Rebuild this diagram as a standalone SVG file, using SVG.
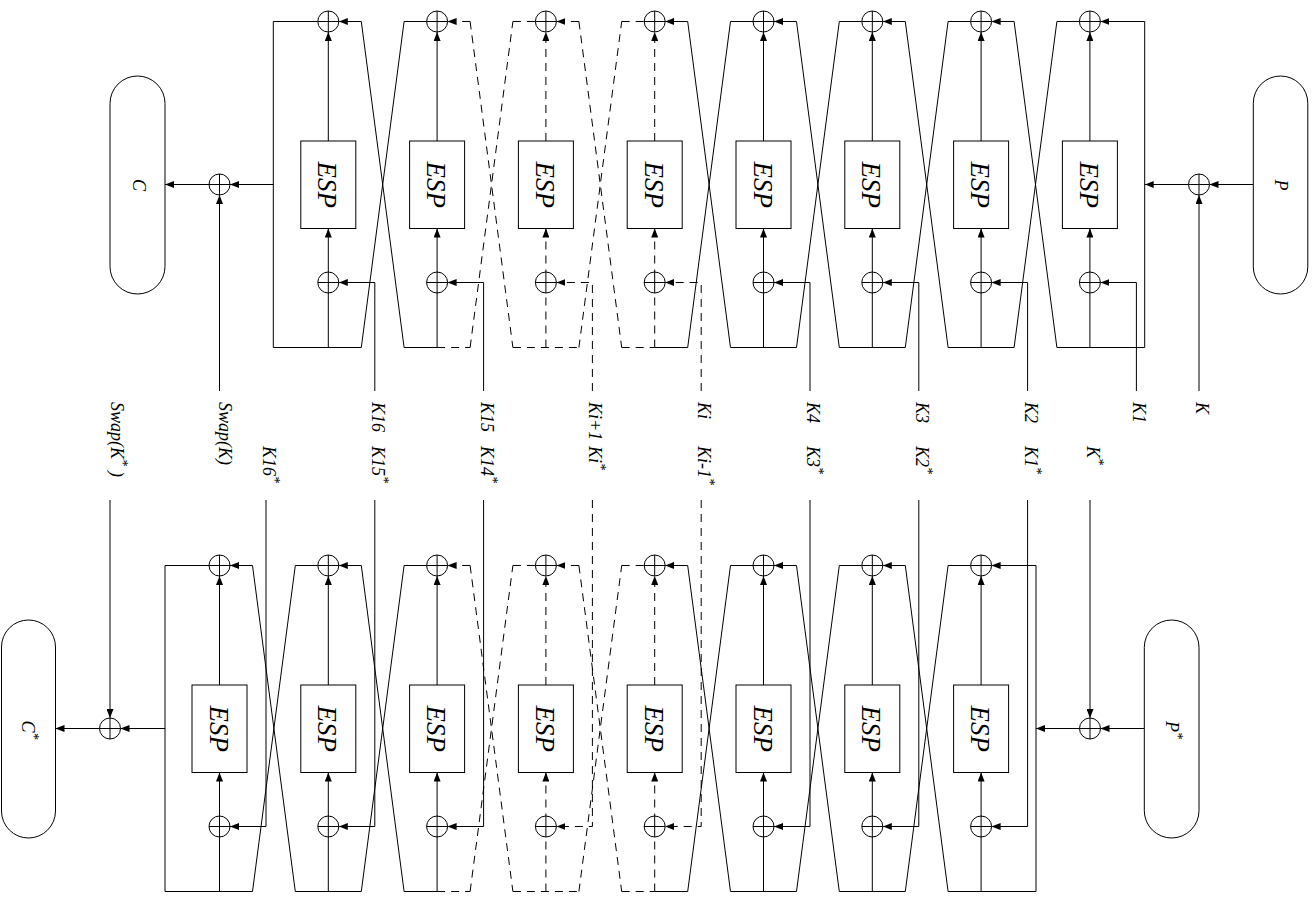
<svg xmlns="http://www.w3.org/2000/svg" width="1316" height="898" viewBox="0 0 1316 898">
<style>
.s{fill:none;stroke:#000;stroke-width:1}
.d{stroke-dasharray:8 6}
.a{marker-end:url(#ah)}
.box{fill:#fff;stroke:#000;stroke-width:1}
.x circle{fill:#fff;stroke:#000;stroke-width:1}
.x path{fill:none;stroke:#000;stroke-width:1}
.pill{fill:#fff;stroke:#000;stroke-width:1}
text{font-family:"Liberation Serif","Times New Roman",serif;font-style:italic;fill:#000}
.esp{font-size:27px;text-anchor:middle}
.lb{font-size:18px}
.pt{font-size:18px;text-anchor:middle}
.sup{font-size:14px}
</style>
<defs>
<marker id="ah" viewBox="0 0 9 7" refX="9" refY="3.5" markerWidth="9" markerHeight="7" markerUnits="userSpaceOnUse" orient="auto"><path d="M0,0 L9,3.5 L0,7 z" fill="#000"/></marker>
</defs>

<g id="connectors">
<!-- TOP ROW -->
<path class="s a" d="M1253.3,184.5 H1209.5"/>
<path class="s a" d="M1188.5,184.5 H1144.7"/>
<path class="s a" d="M1199,391 V195"/>
<path class="s a" d="M273.3,184.5 H230"/>
<path class="s a" d="M209,184.5 H165"/>
<path class="s a" d="M219.5,391 V195"/>
<!-- t0 c=328.3 -->
<path class="s" d="M317.8,21.5 H273.3 V347.5 H361.3"/>
<path class="s a" d="M361.3,21.5 H338.8"/>
<path class="s a" d="M328.3,347.5 V228.5"/>
<path class="s a" d="M328.3,141 V32"/>
<path class="s a" d="M374.8,391 V282.5 H338.8"/>
<path class="s" d="M361.3,21.5 L404.1,347.5 M361.3,347.5 L404.1,21.5"/>
<!-- t1 c=437.1 -->
<path class="s" d="M404.1,21.5 H426.6"/>
<path class="s d a" d="M470.1,21.5 H447.6"/>
<path class="s" d="M404.1,347.5 H437.1"/>
<path class="s d" d="M437.1,347.5 H470.1"/>
<path class="s a" d="M437.1,347.5 V228.5"/>
<path class="s a" d="M437.1,141 V32"/>
<path class="s a" d="M483.6,391 V282.5 H447.6"/>
<path class="s d" d="M470.1,21.5 L512.9,347.5 M470.1,347.5 L512.9,21.5"/>
<!-- t2 c=545.9 -->
<path class="s d" d="M512.9,21.5 H535.4"/>
<path class="s d a" d="M578.9,21.5 H556.4"/>
<path class="s d" d="M512.9,347.5 H578.9"/>
<path class="s d a" d="M545.9,347.5 V228.5"/>
<path class="s d a" d="M545.9,141 V32"/>
<path class="s d a" d="M592.4,391 V282.5 H556.4"/>
<path class="s d" d="M578.9,21.5 L621.7,347.5 M578.9,347.5 L621.7,21.5"/>
<!-- t3 c=654.7 -->
<path class="s d" d="M621.7,21.5 H644.2"/>
<path class="s a" d="M687.7,21.5 H665.2"/>
<path class="s d" d="M621.7,347.5 H654.7"/>
<path class="s" d="M654.7,347.5 H687.7"/>
<path class="s d a" d="M654.7,347.5 V228.5"/>
<path class="s d a" d="M654.7,141 V32"/>
<path class="s d a" d="M701.2,391 V282.5 H665.2"/>
<path class="s" d="M687.7,21.5 L730.5,347.5 M687.7,347.5 L730.5,21.5"/>
<!-- t4 c=763.5 -->
<path class="s" d="M730.5,21.5 H753 M730.5,347.5 H796.5"/>
<path class="s a" d="M796.5,21.5 H774"/>
<path class="s a" d="M763.5,347.5 V228.5"/>
<path class="s a" d="M763.5,141 V32"/>
<path class="s a" d="M810,391 V282.5 H774"/>
<path class="s" d="M796.5,21.5 L839.3,347.5 M796.5,347.5 L839.3,21.5"/>
<!-- t5 c=872.3 -->
<path class="s" d="M839.3,21.5 H861.8 M839.3,347.5 H905.3"/>
<path class="s a" d="M905.3,21.5 H882.8"/>
<path class="s a" d="M872.3,347.5 V228.5"/>
<path class="s a" d="M872.3,141 V32"/>
<path class="s a" d="M918.8,391 V282.5 H882.8"/>
<path class="s" d="M905.3,21.5 L948.1,347.5 M905.3,347.5 L948.1,21.5"/>
<!-- t6 c=981.1 -->
<path class="s" d="M948.1,21.5 H970.6 M948.1,347.5 H1014.1"/>
<path class="s a" d="M1014.1,21.5 H991.6"/>
<path class="s a" d="M981.1,347.5 V228.5"/>
<path class="s a" d="M981.1,141 V32"/>
<path class="s a" d="M1027.6,391 V282.5 H991.6"/>
<path class="s" d="M1014.1,21.5 L1056.9,347.5 M1014.1,347.5 L1056.9,21.5"/>
<!-- t7 c=1089.9 -->
<path class="s" d="M1056.9,21.5 H1079.4 M1144.7,21.5 V347.5 H1056.9"/>
<path class="s a" d="M1144.7,21.5 H1100.4"/>
<path class="s a" d="M1089.9,347.5 V228.5"/>
<path class="s a" d="M1089.9,141 V32"/>
<path class="s a" d="M1136.4,391 V282.5 H1100.4"/>

<!-- BOTTOM ROW -->
<path class="s a" d="M1144.3,728.5 H1100.5"/>
<path class="s a" d="M1079.5,728.5 H1036"/>
<path class="s a" d="M1090,500 V718"/>
<path class="s a" d="M165,728.5 H120.5"/>
<path class="s a" d="M99.5,728.5 H55.5"/>
<path class="s a" d="M110,500 V718"/>
<!-- b0 c=219.5 -->
<path class="s" d="M209,565.5 H165 V891.5 H252.5"/>
<path class="s a" d="M252.5,565.5 H230"/>
<path class="s a" d="M219.5,891.5 V772.5"/>
<path class="s a" d="M219.5,685 V576"/>
<path class="s a" d="M266,500 V826.5 H230"/>
<path class="s" d="M252.5,565.5 L295.3,891.5 M252.5,891.5 L295.3,565.5"/>
<!-- b1 c=328.3 -->
<path class="s" d="M295.3,565.5 H317.8 M295.3,891.5 H361.3"/>
<path class="s a" d="M361.3,565.5 H338.8"/>
<path class="s a" d="M328.3,891.5 V772.5"/>
<path class="s a" d="M328.3,685 V576"/>
<path class="s a" d="M374.8,500 V826.5 H338.8"/>
<path class="s" d="M361.3,565.5 L404.1,891.5 M361.3,891.5 L404.1,565.5"/>
<!-- b2 c=437.1 -->
<path class="s" d="M404.1,565.5 H426.6"/>
<path class="s d a" d="M470.1,565.5 H447.6"/>
<path class="s" d="M404.1,891.5 H437.1"/>
<path class="s d" d="M437.1,891.5 H470.1"/>
<path class="s a" d="M437.1,891.5 V772.5"/>
<path class="s a" d="M437.1,685 V576"/>
<path class="s a" d="M483.6,500 V826.5 H447.6"/>
<path class="s d" d="M470.1,565.5 L512.9,891.5 M470.1,891.5 L512.9,565.5"/>
<!-- b3 c=545.9 -->
<path class="s d" d="M512.9,565.5 H535.4"/>
<path class="s d a" d="M578.9,565.5 H556.4"/>
<path class="s d" d="M512.9,891.5 H578.9"/>
<path class="s d a" d="M545.9,891.5 V772.5"/>
<path class="s d a" d="M545.9,685 V576"/>
<path class="s d a" d="M592.4,500 V826.5 H556.4"/>
<path class="s d" d="M578.9,565.5 L621.7,891.5 M578.9,891.5 L621.7,565.5"/>
<!-- b4 c=654.7 -->
<path class="s d" d="M621.7,565.5 H644.2"/>
<path class="s a" d="M687.7,565.5 H665.2"/>
<path class="s d" d="M621.7,891.5 H654.7"/>
<path class="s" d="M654.7,891.5 H687.7"/>
<path class="s d a" d="M654.7,891.5 V772.5"/>
<path class="s d a" d="M654.7,685 V576"/>
<path class="s d a" d="M701.2,500 V826.5 H665.2"/>
<path class="s" d="M687.7,565.5 L730.5,891.5 M687.7,891.5 L730.5,565.5"/>
<!-- b5 c=763.5 -->
<path class="s" d="M730.5,565.5 H753 M730.5,891.5 H796.5"/>
<path class="s a" d="M796.5,565.5 H774"/>
<path class="s a" d="M763.5,891.5 V772.5"/>
<path class="s a" d="M763.5,685 V576"/>
<path class="s a" d="M810,500 V826.5 H774"/>
<path class="s" d="M796.5,565.5 L839.3,891.5 M796.5,891.5 L839.3,565.5"/>
<!-- b6 c=872.3 -->
<path class="s" d="M839.3,565.5 H861.8 M839.3,891.5 H905.3"/>
<path class="s a" d="M905.3,565.5 H882.8"/>
<path class="s a" d="M872.3,891.5 V772.5"/>
<path class="s a" d="M872.3,685 V576"/>
<path class="s a" d="M918.8,500 V826.5 H882.8"/>
<path class="s" d="M905.3,565.5 L948.1,891.5 M905.3,891.5 L948.1,565.5"/>
<!-- b7 c=981.1 -->
<path class="s" d="M948.1,565.5 H970.6 M1036,565.5 V891.5 H948.1"/>
<path class="s a" d="M1036,565.5 H991.6"/>
<path class="s a" d="M981.1,891.5 V772.5"/>
<path class="s a" d="M981.1,685 V576"/>
<path class="s a" d="M1027.6,500 V826.5 H991.6"/>
</g>

<!-- pills -->
<g id="P"><rect class="pill" x="1253.3" y="76" width="54.5" height="218" rx="27.25"/><text class="pt" transform="translate(1275,185) rotate(90)">P</text></g>
<g id="C"><rect class="pill" x="110" y="76" width="55" height="218" rx="27.5"/><text class="pt" transform="translate(132.5,185) rotate(90)">C</text></g>
<g id="Pstar"><rect class="pill" x="1144.3" y="620" width="54.7" height="218" rx="27.35"/><text class="pt" transform="translate(1165.5,730) rotate(90)">P<tspan class="sup" dy="-7">*</tspan></text></g>
<g id="Cstar"><rect class="pill" x="1.5" y="620" width="54" height="218" rx="27"/><text class="pt" transform="translate(21.5,730) rotate(90)">C<tspan class="sup" dy="-7">*</tspan></text></g>

<!-- XOR nodes -->
<g id="xor-in-top" class="x"><circle cx="1199" cy="184.5" r="10.5"/><path d="M1188.5,184.5 H1209.5 M1199,174 V195"/></g>
<g id="xor-out-top" class="x"><circle cx="219.5" cy="184.5" r="10.5"/><path d="M209,184.5 H230 M219.5,174 V195"/></g>
<g id="xor-in-bot" class="x"><circle cx="1090" cy="728.5" r="10.5"/><path d="M1079.5,728.5 H1100.5 M1090,718 V739"/></g>
<g id="xor-out-bot" class="x"><circle cx="110" cy="728.5" r="10.5"/><path d="M99.5,728.5 H120.5 M110,718 V739"/></g>

<!-- Top row stages -->
<g id="t0"><g class="x"><circle cx="328.3" cy="21.5" r="10.5"/><path d="M317.8,21.5 H338.8 M328.3,11 V32"/><circle cx="328.3" cy="282.5" r="10.5"/><path d="M317.8,282.5 H338.8 M328.3,272 V293"/></g><rect class="box" x="300.8" y="141" width="55" height="87.5"/><text class="esp" transform="translate(318.3,184.8) rotate(90)">ESP</text></g>
<g id="t1"><g class="x"><circle cx="437.1" cy="21.5" r="10.5"/><path d="M426.6,21.5 H447.6 M437.1,11 V32"/><circle cx="437.1" cy="282.5" r="10.5"/><path d="M426.6,282.5 H447.6 M437.1,272 V293"/></g><rect class="box" x="409.6" y="141" width="55" height="87.5"/><text class="esp" transform="translate(427.1,184.8) rotate(90)">ESP</text></g>
<g id="t2"><g class="x"><circle cx="545.9" cy="21.5" r="10.5"/><path d="M535.4,21.5 H556.4 M545.9,11 V32"/><circle cx="545.9" cy="282.5" r="10.5"/><path d="M535.4,282.5 H556.4 M545.9,272 V293"/></g><rect class="box" x="518.4" y="141" width="55" height="87.5"/><text class="esp" transform="translate(535.9,184.8) rotate(90)">ESP</text></g>
<g id="t3"><g class="x"><circle cx="654.7" cy="21.5" r="10.5"/><path d="M644.2,21.5 H665.2 M654.7,11 V32"/><circle cx="654.7" cy="282.5" r="10.5"/><path d="M644.2,282.5 H665.2 M654.7,272 V293"/></g><rect class="box" x="627.2" y="141" width="55" height="87.5"/><text class="esp" transform="translate(644.7,184.8) rotate(90)">ESP</text></g>
<g id="t4"><g class="x"><circle cx="763.5" cy="21.5" r="10.5"/><path d="M753,21.5 H774 M763.5,11 V32"/><circle cx="763.5" cy="282.5" r="10.5"/><path d="M753,282.5 H774 M763.5,272 V293"/></g><rect class="box" x="736" y="141" width="55" height="87.5"/><text class="esp" transform="translate(753.5,184.8) rotate(90)">ESP</text></g>
<g id="t5"><g class="x"><circle cx="872.3" cy="21.5" r="10.5"/><path d="M861.8,21.5 H882.8 M872.3,11 V32"/><circle cx="872.3" cy="282.5" r="10.5"/><path d="M861.8,282.5 H882.8 M872.3,272 V293"/></g><rect class="box" x="844.8" y="141" width="55" height="87.5"/><text class="esp" transform="translate(862.3,184.8) rotate(90)">ESP</text></g>
<g id="t6"><g class="x"><circle cx="981.1" cy="21.5" r="10.5"/><path d="M970.6,21.5 H991.6 M981.1,11 V32"/><circle cx="981.1" cy="282.5" r="10.5"/><path d="M970.6,282.5 H991.6 M981.1,272 V293"/></g><rect class="box" x="953.6" y="141" width="55" height="87.5"/><text class="esp" transform="translate(971.1,184.8) rotate(90)">ESP</text></g>
<g id="t7"><g class="x"><circle cx="1089.9" cy="21.5" r="10.5"/><path d="M1079.4,21.5 H1100.4 M1089.9,11 V32"/><circle cx="1089.9" cy="282.5" r="10.5"/><path d="M1079.4,282.5 H1100.4 M1089.9,272 V293"/></g><rect class="box" x="1062.4" y="141" width="55" height="87.5"/><text class="esp" transform="translate(1079.9,184.8) rotate(90)">ESP</text></g>

<!-- Bottom row stages -->
<g id="b0"><g class="x"><circle cx="219.5" cy="565.5" r="10.5"/><path d="M209,565.5 H230 M219.5,555 V576"/><circle cx="219.5" cy="826.5" r="10.5"/><path d="M209,826.5 H230 M219.5,816 V837"/></g><rect class="box" x="192" y="685" width="55" height="87.5"/><text class="esp" transform="translate(209.5,728.8) rotate(90)">ESP</text></g>
<g id="b1"><g class="x"><circle cx="328.3" cy="565.5" r="10.5"/><path d="M317.8,565.5 H338.8 M328.3,555 V576"/><circle cx="328.3" cy="826.5" r="10.5"/><path d="M317.8,826.5 H338.8 M328.3,816 V837"/></g><rect class="box" x="300.8" y="685" width="55" height="87.5"/><text class="esp" transform="translate(318.3,728.8) rotate(90)">ESP</text></g>
<g id="b2"><g class="x"><circle cx="437.1" cy="565.5" r="10.5"/><path d="M426.6,565.5 H447.6 M437.1,555 V576"/><circle cx="437.1" cy="826.5" r="10.5"/><path d="M426.6,826.5 H447.6 M437.1,816 V837"/></g><rect class="box" x="409.6" y="685" width="55" height="87.5"/><text class="esp" transform="translate(427.1,728.8) rotate(90)">ESP</text></g>
<g id="b3"><g class="x"><circle cx="545.9" cy="565.5" r="10.5"/><path d="M535.4,565.5 H556.4 M545.9,555 V576"/><circle cx="545.9" cy="826.5" r="10.5"/><path d="M535.4,826.5 H556.4 M545.9,816 V837"/></g><rect class="box" x="518.4" y="685" width="55" height="87.5"/><text class="esp" transform="translate(535.9,728.8) rotate(90)">ESP</text></g>
<g id="b4"><g class="x"><circle cx="654.7" cy="565.5" r="10.5"/><path d="M644.2,565.5 H665.2 M654.7,555 V576"/><circle cx="654.7" cy="826.5" r="10.5"/><path d="M644.2,826.5 H665.2 M654.7,816 V837"/></g><rect class="box" x="627.2" y="685" width="55" height="87.5"/><text class="esp" transform="translate(644.7,728.8) rotate(90)">ESP</text></g>
<g id="b5"><g class="x"><circle cx="763.5" cy="565.5" r="10.5"/><path d="M753,565.5 H774 M763.5,555 V576"/><circle cx="763.5" cy="826.5" r="10.5"/><path d="M753,826.5 H774 M763.5,816 V837"/></g><rect class="box" x="736" y="685" width="55" height="87.5"/><text class="esp" transform="translate(753.5,728.8) rotate(90)">ESP</text></g>
<g id="b6"><g class="x"><circle cx="872.3" cy="565.5" r="10.5"/><path d="M861.8,565.5 H882.8 M872.3,555 V576"/><circle cx="872.3" cy="826.5" r="10.5"/><path d="M861.8,826.5 H882.8 M872.3,816 V837"/></g><rect class="box" x="844.8" y="685" width="55" height="87.5"/><text class="esp" transform="translate(862.3,728.8) rotate(90)">ESP</text></g>
<g id="b7"><g class="x"><circle cx="981.1" cy="565.5" r="10.5"/><path d="M970.6,565.5 H991.6 M981.1,555 V576"/><circle cx="981.1" cy="826.5" r="10.5"/><path d="M970.6,826.5 H991.6 M981.1,816 V837"/></g><rect class="box" x="953.6" y="685" width="55" height="87.5"/><text class="esp" transform="translate(971.1,728.8) rotate(90)">ESP</text></g>

<!-- key labels -->
<g id="labels">
<text class="lb" transform="translate(110.5,402) rotate(90)">Swap(K<tspan class="sup" dy="-7">*</tspan><tspan dy="7" dx="5">)</tspan></text>
<text class="lb" transform="translate(219,402) rotate(90)">Swap(K)</text>
<text class="lb" transform="translate(371.8,402) rotate(90)">K16</text>
<text class="lb" transform="translate(480.6,402) rotate(90)">K15</text>
<text class="lb" transform="translate(589.4,402) rotate(90)">Ki+1</text>
<text class="lb" transform="translate(698.2,402) rotate(90)">Ki</text>
<text class="lb" transform="translate(807,402) rotate(90)">K4</text>
<text class="lb" transform="translate(915.8,402) rotate(90)">K3</text>
<text class="lb" transform="translate(1024.6,402) rotate(90)">K2</text>
<text class="lb" transform="translate(1133.4,402) rotate(90)">K1</text>
<text class="lb" transform="translate(1196,402) rotate(90)">K</text>
<text class="lb" transform="translate(263,446) rotate(90)">K16<tspan class="sup" dy="-7">*</tspan></text>
<text class="lb" transform="translate(371.8,446) rotate(90)">K15<tspan class="sup" dy="-7">*</tspan></text>
<text class="lb" transform="translate(480.6,446) rotate(90)">K14<tspan class="sup" dy="-7">*</tspan></text>
<text class="lb" transform="translate(589.4,446) rotate(90)">Ki<tspan class="sup" dy="-7">*</tspan></text>
<text class="lb" transform="translate(698.2,446) rotate(90)">Ki-1<tspan class="sup" dy="-7">*</tspan></text>
<text class="lb" transform="translate(807,446) rotate(90)">K3<tspan class="sup" dy="-7">*</tspan></text>
<text class="lb" transform="translate(915.8,446) rotate(90)">K2<tspan class="sup" dy="-7">*</tspan></text>
<text class="lb" transform="translate(1024.6,446) rotate(90)">K1<tspan class="sup" dy="-7">*</tspan></text>
<text class="lb" transform="translate(1087,446) rotate(90)">K<tspan class="sup" dy="-7">*</tspan></text>
</g>
</svg>
